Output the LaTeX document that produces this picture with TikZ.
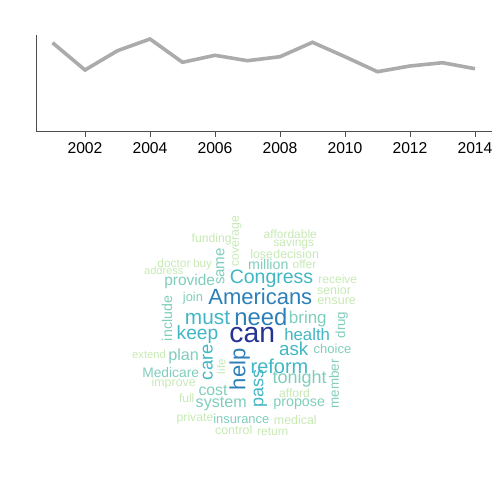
\documentclass[tikz,border=0pt]{standalone}
\usepackage{fontspec}
\setmainfont{Liberation Sans}
\definecolor{cA}{HTML}{253494}
\definecolor{cB}{HTML}{2C7FB8}
\definecolor{cC}{HTML}{41B6C4}
\definecolor{cD}{HTML}{7FCDBB}
\definecolor{cE}{HTML}{C7E9B4}
\newcommand{\wsize}[1]{\fontsize{#1}{#1}\selectfont}
\begin{document}
\begin{tikzpicture}[x=1pt,y=-1pt,
    word/.style={inner sep=0pt,anchor=center},
    up/.style={word,rotate=90}]
\useasboundingbox (0,0) rectangle (504,504);
% line chart
\draw[black!70,line width=.8pt] (36,35) -- (36,131.5) -- (492,131.5);
\foreach \yr [count=\i from 0] in {2002,2004,...,2014}
    \draw[black!70,line width=.8pt] (85+65*\i,131.5) -- ++(0,5.5)
        node[word,below=5.5pt,text=black,font=\wsize{15.7}] (t\yr) {\yr};
\draw[black!33,line width=3.6pt] plot coordinates {(52.5,42.7) (85,70) (117.5,50.7) (150,39)
    (182.5,62.3) (215,55.3) (247.5,60.7) (280,56.7) (312.5,42.3) (345,56.7)
    (377.5,71.7) (410,66) (442.5,62.7) (475,68.7)};
% word cloud
\node[word,text=cE,font=\wsize{12}] (affordable) at (290.3,234.2) {affordable};
\node[word,text=cE,font=\wsize{12}] (savings) at (293.8,243.8) {savings};
\node[word,text=cE,font=\wsize{12.4}] (lose) at (261.7,253.8) {lose};
\node[word,text=cE,font=\wsize{12.4}] (decision) at (296.2,253.8) {decision};
\node[word,text=cD,font=\wsize{14.2}] (million) at (268.3,264.2) {million};
\node[word,text=cE,font=\wsize{12}] (offer) at (304.5,264.7) {offer};
\node[word,text=cC,font=\wsize{19.5}] (Congress) at (271.5,279.2) {Congress};
\node[word,text=cE,font=\wsize{12}] (receive) at (337.8,278.8) {receive};
\node[word,text=cE,font=\wsize{12.4}] (senior) at (334,290.5) {senior};
\node[word,text=cE,font=\wsize{12.6}] (ensure) at (336.7,301.3) {ensure};
\node[word,text=cE,font=\wsize{12.2}] (funding) at (211.7,239.2) {funding};
\node[up,text=cE,font=\wsize{12.3}] (coverage) at (236.8,241.3) {coverage};
\node[up,text=cD,font=\wsize{15.1}] (same) at (220.5,266.5) {same};
\node[word,text=cE,font=\wsize{11.9}] (doctor) at (174,263.3) {doctor};
\node[word,text=cE,font=\wsize{11.8}] (buy) at (202.6,264) {buy};
\node[word,text=cE,font=\wsize{11}] (address) at (163.8,270.5) {address};
\node[word,text=cD,font=\wsize{15.5}] (provide) at (189.7,281.3) {provide};
\node[word,text=cD,font=\wsize{12.9}] (join) at (193,298.5) {join};
\node[up,text=cD,font=\wsize{14.2}] (include) at (167,318.5) {include};
\node[word,text=cB,font=\wsize{22}] (Americans) at (260.3,296.7) {Americans};
\node[word,text=cB,font=\wsize{23.8}] (need) at (260.8,316.8) {need};
\node[word,text=cC,font=\wsize{20.8}] (must) at (207.5,317.5) {must};
\node[word,text=cD,font=\wsize{17}] (bring) at (307.8,319.2) {bring};
\node[word,text=cA,font=\wsize{28.3}] (can) at (252.2,335) {can};
\node[word,text=cC,font=\wsize{19.2}] (keep) at (197.5,335) {keep};
\node[word,text=cC,font=\wsize{16.8}] (health) at (307.2,334.2) {health};
\node[up,text=cD,font=\wsize{13.3}] (drug) at (341.7,325) {drug};
\node[word,text=cC,font=\wsize{18.8}] (ask) at (293.7,348.3) {ask};
\node[word,text=cD,font=\wsize{13}] (choice) at (332.5,349) {choice};
\node[word,text=cD,font=\wsize{16.2}] (plan) at (183.6,356.7) {plan};
\node[word,text=cE,font=\wsize{11.2}] (extend) at (149,354.5) {extend};
\node[up,text=cC,font=\wsize{18.3}] (care) at (207.8,362.2) {care};
\node[up,text=cB,font=\wsize{22}] (help) at (239.7,369.2) {help};
\node[up,text=cE,font=\wsize{11.5}] (life) at (221.3,366.7) {life};
\node[word,text=cC,font=\wsize{20}] (reform) at (279.5,366.7) {reform};
\node[word,text=cD,font=\wsize{13.8}] (Medicare) at (170.7,372.5) {Medicare};
\node[word,text=cD,font=\wsize{18}] (tonight) at (299.7,379.2) {tonight};
\node[up,text=cD,font=\wsize{13.4}] (member) at (334.2,383.8) {member};
\node[word,text=cE,font=\wsize{12.4}] (improve) at (173.7,383.3) {improve};
\node[word,text=cD,font=\wsize{15.8}] (cost) at (213,390) {cost};
\node[up,text=cC,font=\wsize{18}] (pass) at (260.5,388.7) {pass};
\node[word,text=cE,font=\wsize{12.1}] (afford) at (294.5,392.8) {afford};
\node[word,text=cE,font=\wsize{12}] (full) at (186.7,397.8) {full};
\node[word,text=cD,font=\wsize{16.1}] (system) at (221.2,403.7) {system};
\node[word,text=cD,font=\wsize{14.3}] (propose) at (299.2,404.2) {propose};
\node[word,text=cE,font=\wsize{12.2}] (private) at (195,418) {private};
\node[word,text=cD,font=\wsize{12.9}] (insurance) at (241.3,419.2) {insurance};
\node[word,text=cE,font=\wsize{12.4}] (medical) at (295.3,420) {medical};
\node[word,text=cE,font=\wsize{12.4}] (control) at (233.7,430.5) {control};
\node[word,text=cE,font=\wsize{11.9}] (return) at (272.8,431.7) {return};
\end{tikzpicture}
\end{document}
